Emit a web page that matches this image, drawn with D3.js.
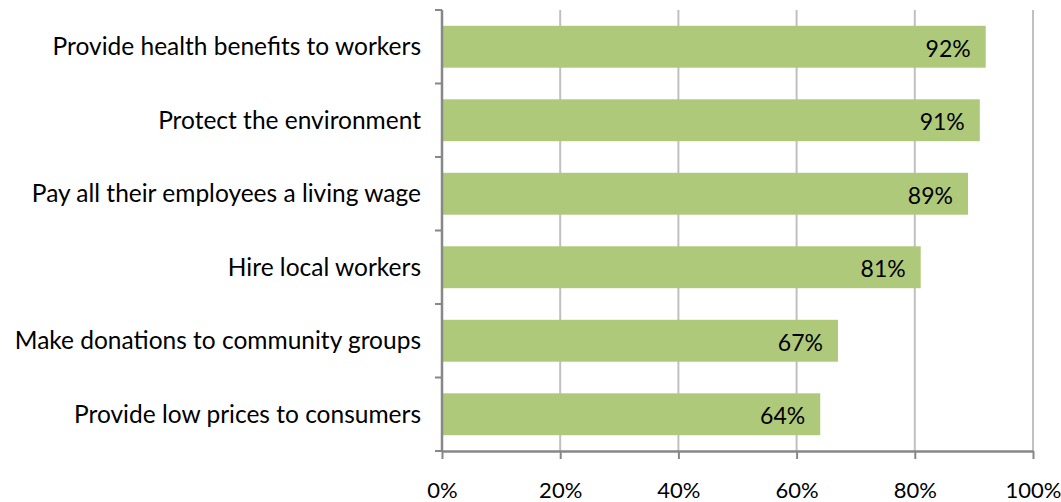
<!DOCTYPE html>
<html>
<head>
<meta charset="utf-8">
<script src="https://cdn.jsdelivr.net/npm/d3@7"></script>
<style>
  html, body { margin: 0; padding: 0; background: #fff; }
  svg { display: block; font-family: Lato, "Open Sans", sans-serif; }
</style>
</head>
<body>
<svg id="chart" width="1061" height="502"></svg>
<script>
// Share of respondents who say businesses should do each of the following
const categories = [
  "Provide health benefits to workers",
  "Protect the environment",
  "Pay all their employees a living wage",
  "Hire local workers",
  "Make donations to community groups",
  "Provide low prices to consumers"
];
const values = [92, 91, 89, 81, 67, 64];
const tickValues = [0, 20, 40, 60, 80, 100];

const svg = d3.select("#chart");
const margin = { left: 442, right: 28, top: 10, bottom: 51 };
const W = 1061, H = 502;

const x = d3.scaleLinear().domain([0, 100]).range([margin.left, W - margin.right]);
const y = d3.scaleBand().domain(categories)
  .range([margin.top, H - margin.bottom])
  .paddingInner(0.43).paddingOuter(0.215);

const axisColor = "#878787";
const gridColor = "#c0c0c0";

// vertical gridlines
svg.append("g").selectAll("line")
  .data(tickValues.filter(d => d > 0))
  .join("line")
  .attr("x1", d => x(d)).attr("x2", d => x(d))
  .attr("y1", margin.top).attr("y2", H - margin.bottom)
  .attr("stroke", gridColor).attr("stroke-width", 2);

// bars
svg.append("g").selectAll("rect")
  .data(values)
  .join("rect")
  .attr("x", x(0))
  .attr("y", (d, i) => y(categories[i]))
  .attr("width", d => x(d) - x(0))
  .attr("height", y.bandwidth())
  .attr("fill", "#afc97b");

// value labels inside bar ends
svg.append("g").selectAll("text")
  .data(values)
  .join("text")
  .attr("x", d => x(d) - 15)
  .attr("y", (d, i) => y(categories[i]) + y.bandwidth() / 2 + 2)
  .attr("dy", "0.35em")
  .attr("text-anchor", "end")
  .attr("font-size", 23)
  .attr("fill", "#000")
  .text(d => d + "%");

// x axis
const xAxis = svg.append("g")
  .attr("transform", `translate(0,${H - margin.bottom})`)
  .call(d3.axisBottom(x).tickValues(tickValues).tickFormat(d => d + "%").tickSize(8).tickSizeOuter(0));
xAxis.select(".domain").attr("stroke", axisColor).attr("stroke-width", 2.5);
xAxis.selectAll(".tick line").attr("stroke", axisColor).attr("stroke-width", 2);
xAxis.selectAll(".tick text")
  .attr("font-size", 22).attr("font-family", "Lato, sans-serif")
  .attr("fill", "#000").attr("y", 0).attr("dy", "47");

// y axis with ticks at band boundaries
const boundaries = d3.range(categories.length + 1).map(i => margin.top + i * y.step());
const yAxis = svg.append("g");
yAxis.append("line")
  .attr("x1", x(0)).attr("x2", x(0))
  .attr("y1", margin.top).attr("y2", H - margin.bottom + 1)
  .attr("stroke", axisColor).attr("stroke-width", 2.5);
yAxis.selectAll("line.t")
  .data(boundaries)
  .join("line").attr("class", "t")
  .attr("x1", x(0) - 7).attr("x2", x(0))
  .attr("y1", d => d).attr("y2", d => d)
  .attr("stroke", axisColor).attr("stroke-width", 2);

// category labels
svg.append("g").selectAll("text")
  .data(categories)
  .join("text")
  .attr("x", x(0) - 21)
  .attr("y", d => y(d) + y.bandwidth() / 2)
  .attr("dy", "0.35em")
  .attr("text-anchor", "end")
  .attr("font-size", 24.5)
  .attr("fill", "#000")
  .text(d => d);
</script>
</body>
</html>
